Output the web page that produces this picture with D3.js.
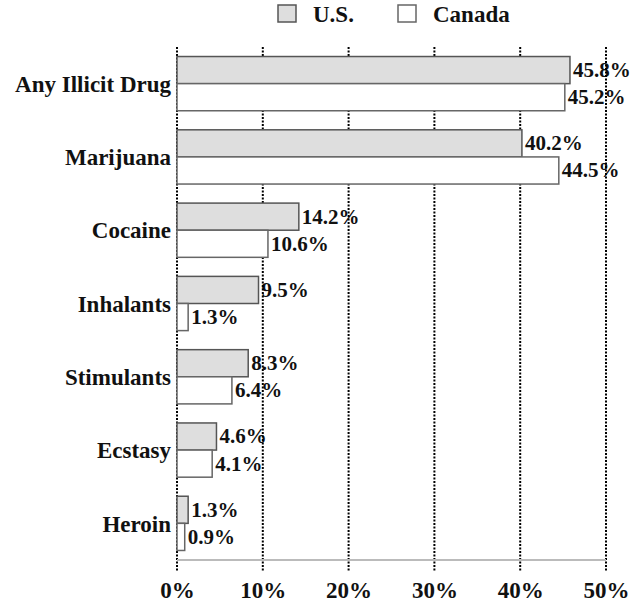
<!DOCTYPE html>
<html><head><meta charset="utf-8">
<script src="https://cdn.jsdelivr.net/npm/d3@7"></script>
<style>
body{margin:0;background:#fff;}
text{font-family:"Liberation Serif","Times New Roman",serif;font-weight:bold;fill:#111;}
</style></head>
<body><svg id="c" width="630" height="605"></svg>
<script>
const categories = ["Any Illicit Drug","Marijuana","Cocaine","Inhalants","Stimulants","Ecstasy","Heroin"];
const usValues = [45.8,40.2,14.2,9.5,8.3,4.6,1.3];
const canadaValues = [45.2,44.5,10.6,1.3,6.4,4.1,0.9];
const tickValues = [0,10,20,30,40,50];
const seriesNames = ["U.S.","Canada"];

(function(){
const svg = d3.select("#c");
const mLeft=177, mRight=606, mTop=47, mBottom=560;
const x = d3.scaleLinear().domain([0,50]).range([mLeft,mRight]);
const y = d3.scaleBand().domain(categories).range([mTop,mBottom]).paddingInner(0.26).paddingOuter(0.13);
const fills = ["#dedede","#ffffff"];
const strokes = ["#555","#666"];

const data = categories.map((c,i)=>({cat:c, vals:[usValues[i],canadaValues[i]]}));

// value labels (under gridlines)
const lab = svg.append("g");
data.forEach(d=>{
  d.vals.forEach((v,j)=>{
    const bh = y.bandwidth()/2;
    lab.append("text")
      .attr("x", x(v)+3)
      .attr("y", y(d.cat)+bh*j+bh/2)
      .attr("dy","0.33em")
      .attr("font-size",21)
      .text(v.toFixed(1)+"%");
  });
});

// gridlines
const grid = svg.append("g");
grid.selectAll("line").data(tickValues).join("line")
  .attr("x1",d=>x(d)).attr("x2",d=>x(d))
  .attr("y1",mTop).attr("y2",mBottom+12)
  .attr("stroke","#000").attr("stroke-width",2).attr("stroke-dasharray","2,1.5");

// axis line
svg.append("line").attr("x1",mLeft).attr("x2",mRight).attr("y1",mBottom).attr("y2",mBottom)
  .attr("stroke","#bbb").attr("stroke-width",2);

// bars
const bars = svg.append("g");
data.forEach(d=>{
  d.vals.forEach((v,j)=>{
    const bh = y.bandwidth()/2;
    bars.append("rect")
      .attr("x", x(0))
      .attr("y", y(d.cat)+bh*j)
      .attr("width", x(v)-x(0))
      .attr("height", bh)
      .attr("fill", fills[j])
      .attr("stroke", strokes[j])
      .attr("stroke-width",1.5);
  });
});

// x axis labels
const xa = svg.append("g").attr("transform",`translate(0,${mBottom})`)
  .call(d3.axisBottom(x).tickValues(tickValues).tickFormat(d=>d+"%").tickSize(0).tickPadding(22));
xa.select(".domain").remove();
xa.selectAll("text").attr("font-size",23).attr("font-family",null);

// category labels
const ya = svg.append("g").attr("transform",`translate(${mLeft-6},0)`)
  .call(d3.axisLeft(y).tickSize(0).tickPadding(0));
ya.select(".domain").remove();
ya.selectAll("text").attr("font-size",23).attr("font-family",null).attr("dy","0.36em");

// legend
const lg = svg.append("g");
const lx = [278,398];
seriesNames.forEach((n,i)=>{
  lg.append("rect").attr("x",lx[i]).attr("y",5).attr("width",18).attr("height",17)
    .attr("fill",fills[i]).attr("stroke",strokes[i]).attr("stroke-width",1.5);
  lg.append("text").attr("x",lx[i]+35).attr("y",22).attr("font-size",23).text(n);
});
})();
</script></body></html>
